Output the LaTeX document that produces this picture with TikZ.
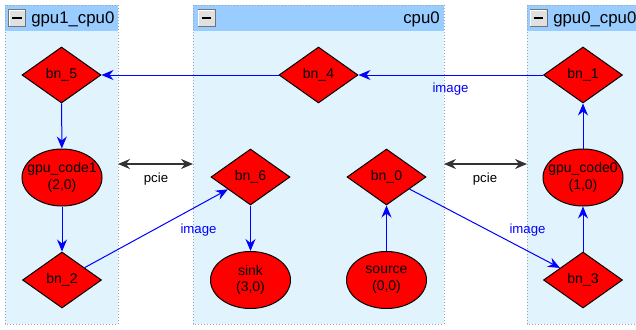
\documentclass[tikz,border=0pt]{standalone}
\usepackage{fontspec}
\setmainfont{Liberation Sans}
\usetikzlibrary{shapes.geometric,arrows.meta}
\definecolor{hdr}{HTML}{99CCFF}
\definecolor{bodyc}{HTML}{E1F3FD}
\definecolor{nodered}{HTML}{FF0000}
\definecolor{edgeblue}{HTML}{0000FF}
\definecolor{framegray}{HTML}{9AA4B0}
\begin{document}
\begin{tikzpicture}[x=0.75pt,y=-0.75pt,
  contbody/.style={fill=bodyc, anchor=north west, minimum height=239.25pt, inner sep=0pt, outer sep=0pt},
  hdrbox/.style={fill=hdr, anchor=north west, minimum height=19.5pt, inner sep=0pt, outer sep=0pt},
  frame/.style={draw=framegray, line width=0.75pt, dash pattern=on 0.75pt off 1.5pt},
  minusbox/.style={draw=black!55, fill=black!12, minimum size=12.75pt, inner sep=0pt, line width=0.6pt},
  hdrtext/.style={font=\fontsize{12.6}{15}\selectfont, inner sep=0pt},
  dia/.style={diamond, draw=black, fill=nodered, line width=0.75pt, minimum width=59.25pt, minimum height=42pt, inner sep=0pt, font=\fontsize{10.5}{12.5}\selectfont},
  ell/.style={ellipse, draw=black, fill=nodered, line width=0.75pt, minimum width=60pt, minimum height=42.75pt, inner sep=0pt},
  elltext/.style={align=center, font=\fontsize{10.5}{12.5}\selectfont, inner sep=0pt},
  edge/.style={draw=edgeblue, line width=0.75pt, -{Stealth[length=9pt,width=7.5pt,inset=3pt]}},
  pcie/.style={draw=black!80, line width=1pt, {Stealth[length=9pt,width=7.5pt,inset=3pt]}-{Stealth[length=9pt,width=7.5pt,inset=3pt]}},
  lbl/.style={font=\fontsize{9.9}{12}\selectfont, inner sep=0pt},
]
\useasboundingbox (0,0) rectangle (636,329);
\clip (0,0) rectangle (636,329);

% containers
\node[contbody, minimum width=84.75pt] (gpu1) at (5,5) {};
\node[contbody, minimum width=188.25pt] (cpu) at (193,5) {};
\node[contbody, minimum width=90pt] (gpu0) at (527,5) {};
\node[hdrbox, minimum width=84.75pt] (h1) at (5,5) {};
\node[hdrbox, minimum width=188.25pt] (h2) at (193,5) {};
\node[hdrbox, minimum width=90pt] (h3) at (527,5) {};
\draw[frame] (gpu1.north west) rectangle (gpu1.south east);
\draw[frame] (cpu.north west) rectangle (cpu.south east);
\draw[frame] (gpu0.north west) rectangle (gpu0.south east);

% minus boxes
\foreach \n/\cx in {m1/17, m2/206.5, m3/538.5}{
  \node[minusbox] (\n) at (\cx,18) {};
  \draw[white, line width=0.8pt] ([shift={(1,-1)}]\n.south west) -- ([shift={(1,1)}]\n.north west) -- ([shift={(-1,1)}]\n.north east);
  \draw[black, line width=1.6pt] ([xshift=-3.6pt]\n.center) -- ([xshift=3.6pt]\n.center);
}

% header titles
\node[hdrtext, anchor=west] (t1) at (31,19.5) {gpu1\_cpu0};
\node[hdrtext, anchor=east] (t2) at (440,19.5) {cpu0};
\node[hdrtext, anchor=west] (t3) at (553,19.5) {gpu0\_cpu0};

% nodes
\node[dia] (bn5) at (61.5,75) {bn\_5};
\node[dia] (bn4) at (318.5,75) {bn\_4};
\node[dia] (bn1) at (583,75) {bn\_1};
\node[ell] (gc1) at (62,177.5) {};
\node[elltext] (gc1t) at (gc1.center) {gpu\_code1\\(2,0)};
\node[dia] (bn6) at (250.5,177) {bn\_6};
\node[dia] (bn0) at (386.5,177) {bn\_0};
\node[ell] (gc0) at (583,177.5) {};
\node[elltext] (gc0t) at (gc0.center) {gpu\_code0\\(1,0)};
\node[dia] (bn2) at (62,280) {bn\_2};
\node[ell] (sink) at (250.5,280) {};
\node[elltext] (sinkt) at (sink.center) {sink\\(3,0)};
\node[ell] (src) at (386.5,280) {};
\node[elltext] (srct) at (src.center) {source\\(0,0)};
\node[dia] (bn3) at (583,280) {bn\_3};

% edges
\draw[edge] (bn4) -- (bn5);
\draw[edge] (bn1) -- (bn4);
\draw[edge] (bn5) -- (gc1);
\draw[edge] (gc1) -- (bn2);
\draw[edge] (bn2) -- (bn6);
\draw[edge] (bn6) -- (sink);
\draw[edge] (src) -- (bn0);
\draw[edge] (bn0) -- (bn3);
\draw[edge] (bn3) -- (gc0);
\draw[edge] (gc0) -- (bn1);

\node[lbl, text=edgeblue] (l1) at (450.5,89.5) {image};
\node[lbl, text=edgeblue] (l2) at (198.5,230) {image};
\node[lbl, text=edgeblue] (l3) at (527.5,230) {image};

% pcie
\coordinate (pL1) at (118,164);
\coordinate (pL2) at (193,164);
\coordinate (pR1) at (444,164);
\coordinate (pR2) at (527,164);
\draw[pcie] (pL1) -- (pL2);
\draw[pcie] (pR1) -- (pR2);
\node[lbl] (pl) at (156,179) {pcie};
\node[lbl] (pr) at (485,179) {pcie};
\end{tikzpicture}
\end{document}
